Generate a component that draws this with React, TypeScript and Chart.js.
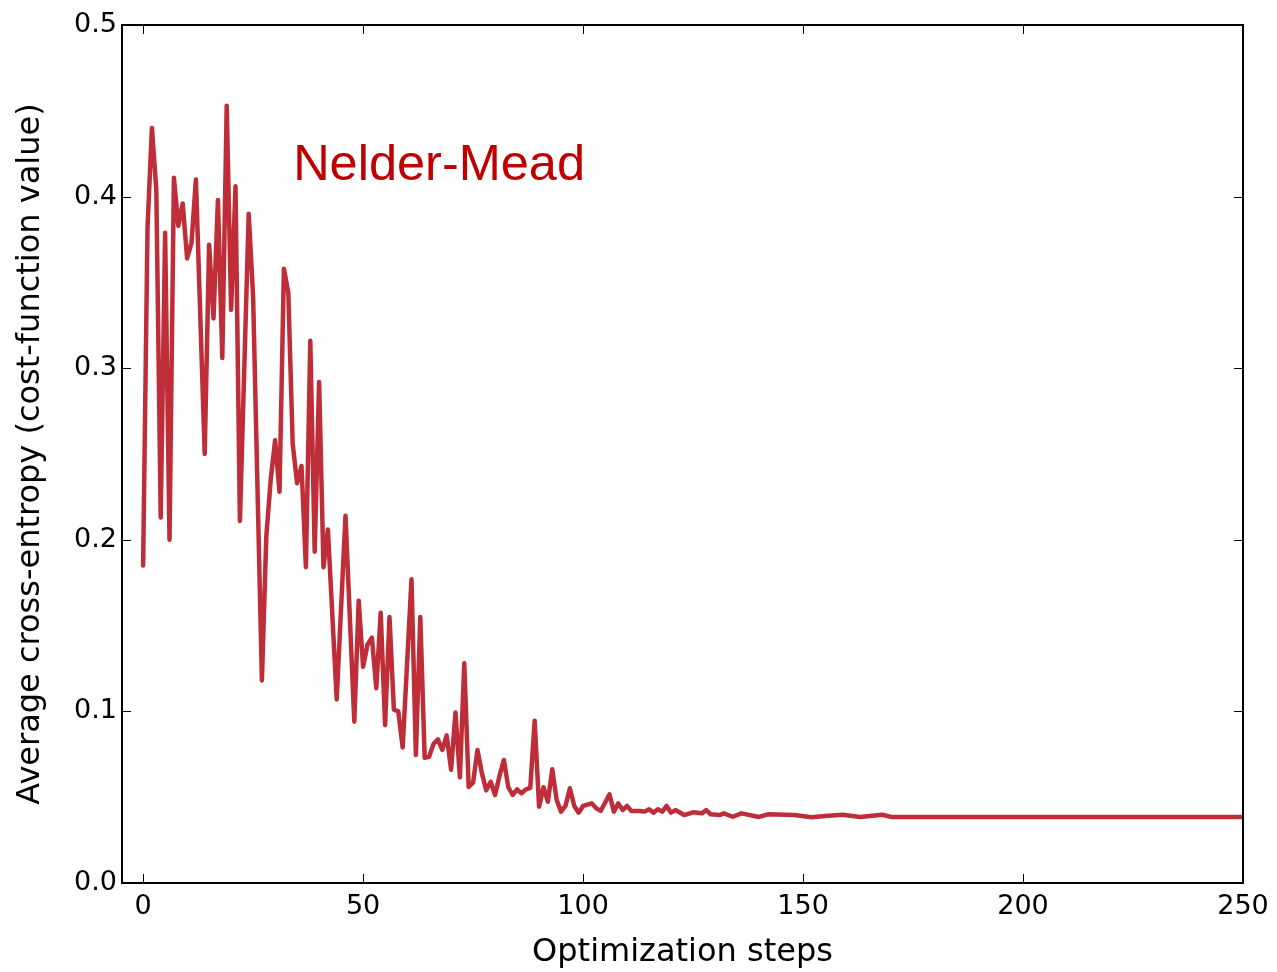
import React, { useEffect, useRef } from 'react';
import { Chart, registerables } from 'chart.js';

Chart.register(...registerables);

// Optimization step of each vertex of the traced curve
const steps = [
  0, 1, 2, 3, 4, 5, 6, 7, 8, 9, 10, 11, 12, 14, 15, 16, 17, 18, 19, 20, 21, 22, 24, 25, 27, 28, 29, 30,
  31, 32, 33, 34, 35, 36, 37, 38, 39, 40, 41, 42, 44, 46, 48, 49, 50, 51, 52, 53, 54, 55, 56, 57, 58,
  59, 61, 62, 63, 64, 65, 66, 67, 68, 69, 70, 71, 72, 73, 74, 75, 76, 77, 78, 79, 80, 81, 82, 83, 84,
  85, 86, 87, 88, 89, 90, 91, 92, 93, 94, 95, 96, 97, 98, 99, 100, 102, 103, 104, 106, 107, 108, 109,
  110, 111, 113, 114, 115, 116, 117, 118, 119, 120, 121, 123, 125, 127, 128, 129, 131, 132, 134, 136,
  140, 142, 148, 152, 155, 159, 163, 168, 170, 250,
];

// Average cross-entropy (cost-function value) at each step above
const costValues = [
  0.185, 0.382, 0.44, 0.404, 0.213, 0.379, 0.2, 0.411, 0.383, 0.396, 0.364, 0.373, 0.41, 0.25, 0.372,
  0.329, 0.398, 0.306, 0.453, 0.334, 0.406, 0.211, 0.39, 0.342, 0.118, 0.202, 0.235, 0.258, 0.228,
  0.358, 0.344, 0.256, 0.233, 0.243, 0.184, 0.316, 0.193, 0.292, 0.184, 0.206, 0.107, 0.214, 0.094,
  0.1645, 0.126, 0.139, 0.143, 0.1135, 0.1575, 0.092, 0.155, 0.101, 0.1, 0.079, 0.177, 0.0746, 0.155,
  0.073, 0.0736, 0.081, 0.0837, 0.0775, 0.086, 0.066, 0.0993, 0.0616, 0.128, 0.056, 0.0585, 0.0775,
  0.064, 0.054, 0.059, 0.0513, 0.0624, 0.0717, 0.0558, 0.0513, 0.0546, 0.0523, 0.0546, 0.0555, 0.0946,
  0.0445, 0.0558, 0.0474, 0.0663, 0.0484, 0.0416, 0.0449, 0.0552, 0.0449, 0.041, 0.0449, 0.0464,
  0.0435, 0.042, 0.0517, 0.0416, 0.0464, 0.0425, 0.0449, 0.042, 0.042, 0.0416, 0.043, 0.041, 0.043,
  0.0416, 0.0449, 0.041, 0.0425, 0.0396, 0.0412, 0.0406, 0.0425, 0.04, 0.0396, 0.0406, 0.0386, 0.0406,
  0.0385, 0.04, 0.0396, 0.0383, 0.039, 0.0398, 0.0385, 0.0398, 0.0385, 0.0385,
];

const xTicks = [0, 50, 100, 150, 200, 250];
const yTicks = [0, 0.1, 0.2, 0.3, 0.4, 0.5];

const seriesLabel = 'Nelder-Mead';
const xTitle = 'Optimization steps';
const yTitle = 'Average cross-entropy (cost-function value)';

const AXIS_FONT = '"DejaVu Sans", sans-serif';

const framePlugin = {
  id: 'frameAndTicks',
  afterDatasetsDraw(chart: any) {
    const { ctx, chartArea: a, scales } = chart;
    ctx.save();
    ctx.strokeStyle = '#000';
    ctx.lineWidth = 1;
    const tl = 9;
    xTicks.forEach((v) => {
      const x = Math.round(scales.x.getPixelForValue(v)) + 0.5;
      ctx.beginPath();
      ctx.moveTo(x, a.bottom);
      ctx.lineTo(x, a.bottom - tl);
      ctx.moveTo(x, a.top);
      ctx.lineTo(x, a.top + tl);
      ctx.stroke();
    });
    yTicks.forEach((v) => {
      const y = Math.round(scales.y.getPixelForValue(v)) + 0.5;
      ctx.beginPath();
      ctx.moveTo(a.left, y);
      ctx.lineTo(a.left + tl, y);
      ctx.moveTo(a.right, y);
      ctx.lineTo(a.right - tl, y);
      ctx.stroke();
    });
    ctx.lineWidth = 2;
    ctx.strokeRect(a.left, a.top, a.right - a.left, a.bottom - a.top);

    // series annotation
    ctx.fillStyle = '#c00000';
    ctx.font = '50.5px "Liberation Sans", Arial, sans-serif';
    ctx.textAlign = 'left';
    ctx.textBaseline = 'alphabetic';
    ctx.fillText(seriesLabel, scales.x.getPixelForValue(34.1), scales.y.getPixelForValue(0.4095));
    ctx.restore();
  },
};

export default function App() {
  const canvasRef = useRef<HTMLCanvasElement | null>(null);

  useEffect(() => {
    const canvas = canvasRef.current;
    if (!canvas) return;
    const data = steps.map((s, i) => ({ x: s, y: costValues[i] }));
    const chart = new Chart(canvas, {
      type: 'line',
      data: {
        datasets: [
          {
            label: seriesLabel,
            data,
            borderColor: '#bf2d38',
            borderWidth: 4.5,
            pointRadius: 0,
            tension: 0,
            borderJoinStyle: 'round',
            borderCapStyle: 'round',
            fill: false,
          },
        ],
      },
      options: {
        responsive: false,
        animation: false,
        layout: { padding: { top: 25, right: 34, left: 0, bottom: 0 } },
        plugins: { legend: { display: false }, tooltip: { enabled: false } },
        scales: {
          x: {
            type: 'linear',
            min: -4.8,
            max: 250,
            grid: { display: false, drawTicks: false },
            border: { display: false },
            afterBuildTicks: (scale: any) => {
              scale.ticks = xTicks.map((v) => ({ value: v }));
            },
            afterFit: (scale: any) => {
              scale.height = 89;
            },
            ticks: {
              color: '#000',
              font: { family: AXIS_FONT, size: 27 },
              padding: 8,
              maxRotation: 0,
              autoSkip: false,
              callback: (v: any) => String(v),
            },
            title: {
              display: true,
              text: xTitle,
              color: '#000',
              font: { family: AXIS_FONT, size: 32 },
              padding: { top: 0, bottom: 0 },
            },
          },
          y: {
            type: 'linear',
            min: 0,
            max: 0.5,
            grid: { display: false, drawTicks: false },
            border: { display: false },
            afterBuildTicks: (scale: any) => {
              scale.ticks = yTicks.map((v) => ({ value: v }));
            },
            afterFit: (scale: any) => {
              scale.width = 122;
            },
            ticks: {
              color: '#000',
              font: { family: AXIS_FONT, size: 27 },
              padding: 5,
              autoSkip: false,
              callback: (v: any) => Number(v).toFixed(1),
            },
            title: {
              display: true,
              text: yTitle,
              color: '#000',
              font: { family: AXIS_FONT, size: 32 },
              padding: { top: 11, bottom: 0 },
            },
          },
        },
      },
      plugins: [framePlugin],
    });
    return () => chart.destroy();
  }, []);

  return (
    <div style={{ position: 'absolute', left: 0, top: 0, width: 1277, height: 972, background: '#fff' }}>
      <canvas ref={canvasRef} width={1277} height={972} />
    </div>
  );
}
